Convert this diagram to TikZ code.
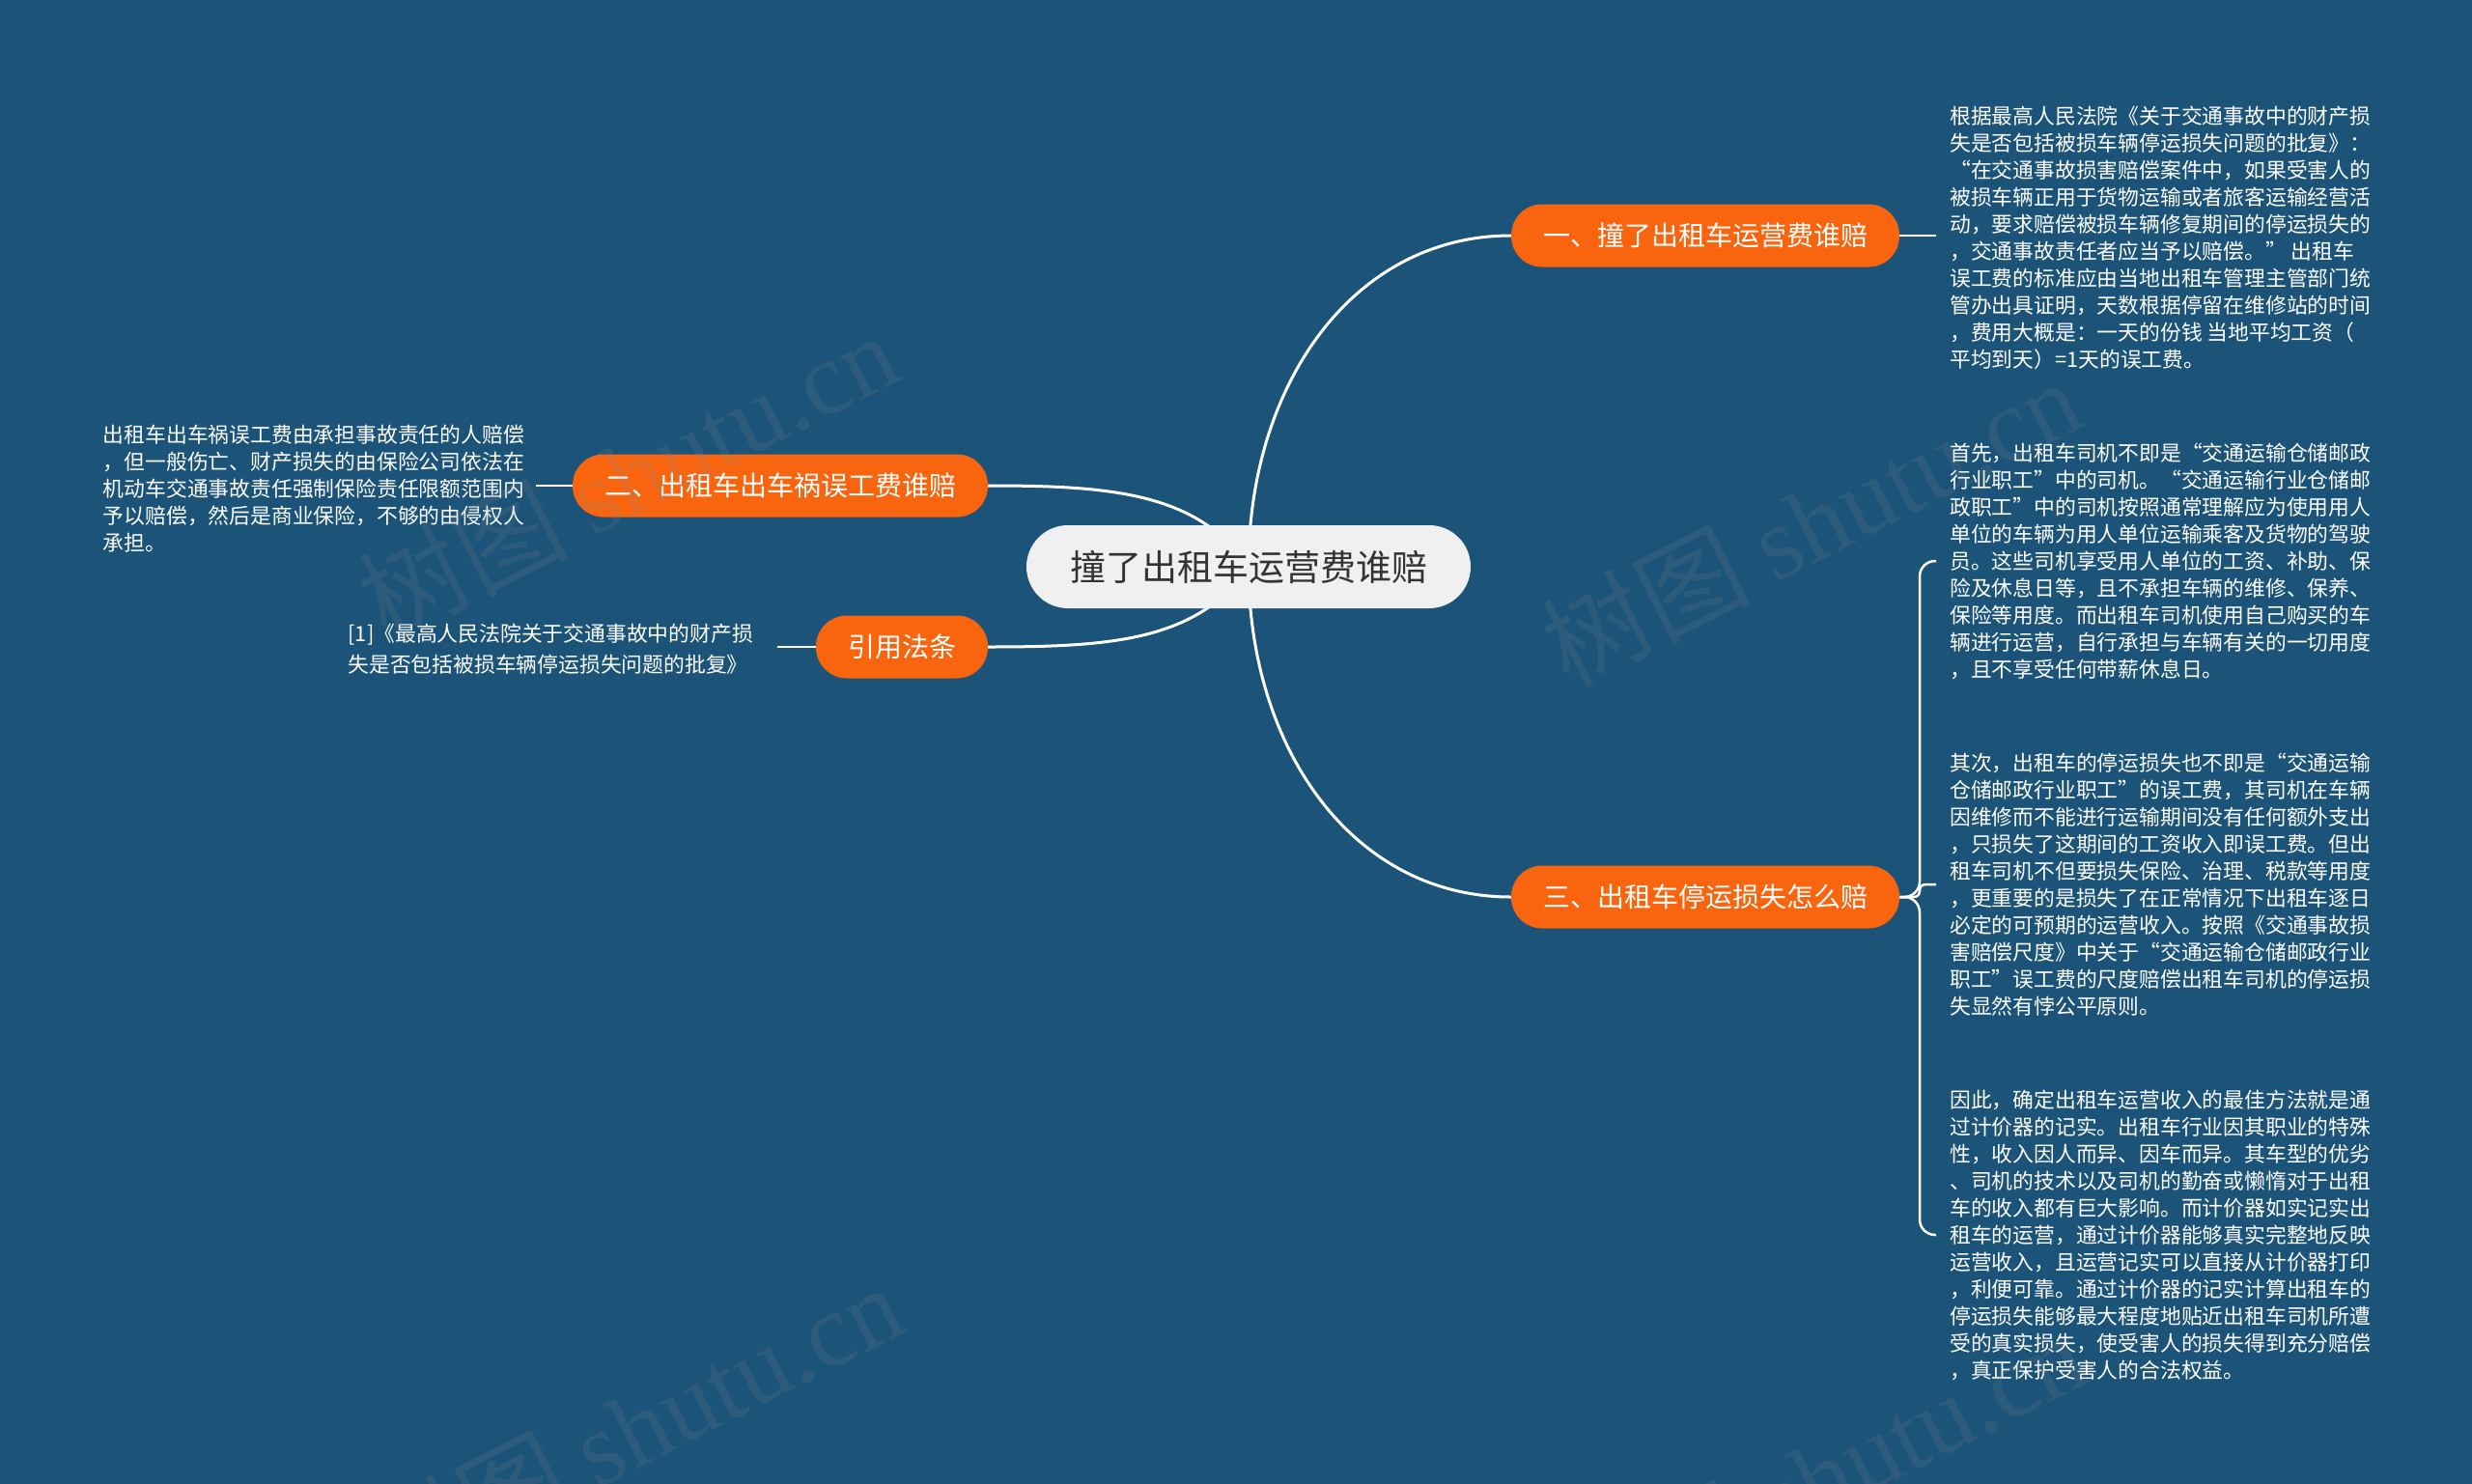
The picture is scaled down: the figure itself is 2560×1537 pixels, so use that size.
\documentclass[tikz,border=0pt]{standalone}
\usepackage{fontspec}
\setmainfont{Noto Sans CJK SC}
\newfontfamily\wmserif{Liberation Serif}
\usetikzlibrary{backgrounds}
\definecolor{bgblue}{HTML}{1B5379}
\definecolor{orangebr}{HTML}{F9650F}
\definecolor{rootfill}{HTML}{F0F0F0}
\definecolor{roottext}{HTML}{333333}
\definecolor{wmgrey}{HTML}{8A8A8A}
\tikzset{
  rootbox/.style={fill=rootfill, text=roottext, rounded corners=43pt, minimum width=460pt, minimum height=86pt, inner sep=0pt, font=\fontsize{37pt}{44pt}\selectfont},
  branchbox/.style={fill=orangebr, text=white, rounded corners=32pt, minimum height=65pt, inner sep=0pt, font=\fontsize{28pt}{34pt}\selectfont},
  leaftext/.style={text=white, align=left, inner ysep=0pt, font=\fontsize{21.8pt}{28pt}\selectfont},
  mainline/.style={draw=white, line width=3pt},
  leafline/.style={draw=white, line width=2.5pt},
  watermark/.style={text=wmgrey, opacity=0.16, rotate=27, font=\fontsize{108pt}{116pt}\selectfont}
}
\begin{document}
\begin{tikzpicture}[x=1pt,y=-1pt]
\useasboundingbox (0,0) rectangle (2560,1537);

% root and branches
\node[rootbox] (root) at (1293,587) {撞了出租车运营费谁赔};
\node[branchbox, minimum width=402pt] (b1) at (1766,244) {一、撞了出租车运营费谁赔};
\node[branchbox, minimum width=402pt] (b3) at (1766,929) {三、出租车停运损失怎么赔};
\node[branchbox, minimum width=430pt] (b2) at (808,503) {二、出租车出车祸误工费谁赔};
\node[branchbox, minimum width=178pt] (b4) at (934,670) {引用法条};

% leaves
\node[leaftext, anchor=west, inner xsep=14pt] (l1) at (2005,246) {根据最高人民法院《关于交通事故中的财产损\\失是否包括被损车辆停运损失问题的批复》：\\“在交通事故损害赔偿案件中，如果受害人的\\被损车辆正用于货物运输或者旅客运输经营活\\动，要求赔偿被损车辆修复期间的停运损失的\\，交通事故责任者应当予以赔偿。” 出租车\\误工费的标准应由当地出租车管理主管部门统\\管办出具证明，天数根据停留在维修站的时间\\，费用大概是：一天的份钱 当地平均工资（\\平均到天）=1天的误工费。};

\node[leaftext, anchor=west, inner xsep=14pt] (la) at (2005,581) {首先，出租车司机不即是“交通运输仓储邮政\\行业职工”中的司机。“交通运输行业仓储邮\\政职工”中的司机按照通常理解应为使用用人\\单位的车辆为用人单位运输乘客及货物的驾驶\\员。这些司机享受用人单位的工资、补助、保\\险及休息日等，且不承担车辆的维修、保养、\\保险等用度。而出租车司机使用自己购买的车\\辆进行运营，自行承担与车辆有关的一切用度\\，且不享受任何带薪休息日。};

\node[leaftext, anchor=west, inner xsep=14pt] (lb) at (2005,916) {其次，出租车的停运损失也不即是“交通运输\\仓储邮政行业职工”的误工费，其司机在车辆\\因维修而不能进行运输期间没有任何额外支出\\，只损失了这期间的工资收入即误工费。但出\\租车司机不但要损失保险、治理、税款等用度\\，更重要的是损失了在正常情况下出租车逐日\\必定的可预期的运营收入。按照《交通事故损\\害赔偿尺度》中关于“交通运输仓储邮政行业\\职工”误工费的尺度赔偿出租车司机的停运损\\失显然有悖公平原则。};

\node[leaftext, anchor=west, inner xsep=14pt] (lc) at (2005,1279) {因此，确定出租车运营收入的最佳方法就是通\\过计价器的记实。出租车行业因其职业的特殊\\性，收入因人而异、因车而异。其车型的优劣\\、司机的技术以及司机的勤奋或懒惰对于出租\\车的收入都有巨大影响。而计价器如实记实出\\租车的运营，通过计价器能够真实完整地反映\\运营收入，且运营记实可以直接从计价器打印\\，利便可靠。通过计价器的记实计算出租车的\\停运损失能够最大程度地贴近出租车司机所遭\\受的真实损失，使受害人的损失得到充分赔偿\\，真正保护受害人的合法权益。};

\node[leaftext, anchor=east, inner xsep=12pt] (l2) at (555,506) {出租车出车祸误工费由承担事故责任的人赔偿\\，但一般伤亡、财产损失的由保险公司依法在\\机动车交通事故责任强制保险责任限额范围内\\予以赔偿，然后是商业保险，不够的由侵权人\\承担。};

\node[leaftext, anchor=east, inner xsep=25pt, font=\fontsize{21.8pt}{32pt}\selectfont] (l4) at (805,672) {[1]《最高人民法院关于交通事故中的财产损\\失是否包括被损车辆停运损失问题的批复》};

\coordinate (j3) at (1988,929);

% connectors behind nodes
\begin{scope}[on background layer]
\fill[bgblue] (0,0) rectangle (2560,1537);
\draw[mainline] (root.center) .. controls (1293,400) and (1400,244) .. (b1.west);
\draw[mainline] (root.center) .. controls (1293,774) and (1400,929) .. (b3.west);
\draw[mainline] (root.center) .. controls (1240,510) and (1150,503) .. (b2.east);
\draw[mainline] (root.center) .. controls (1240,664) and (1150,670) .. (b4.east);
\draw[leafline] (b1.east) -- (b1.east -| l1.west);
\draw[leafline] (b2.west) -- (b2.west -| l2.east);
\draw[leafline] (b4.west) -- (b4.west -| l4.east);
\draw[leafline, rounded corners=16pt] (b3.east) -- (j3) |- (la.west);
\draw[leafline, rounded corners=6pt] (b3.east) -- (j3) |- (lb.west);
\draw[leafline, rounded corners=16pt] (b3.east) -- (j3) |- (lc.west);
\end{scope}

% watermarks
\node[watermark] (wm1) at (650,492) {树图 {\wmserif shutu.cn}};
\node[watermark] (wm2) at (1875,540) {树图 {\wmserif shutu.cn}};
\node[watermark] (wm3) at (655,1478) {树图 {\wmserif shutu.cn}};
\node[watermark] (wm4) at (1880,1530) {树图 {\wmserif shutu.cn}};
\end{tikzpicture}
\end{document}
